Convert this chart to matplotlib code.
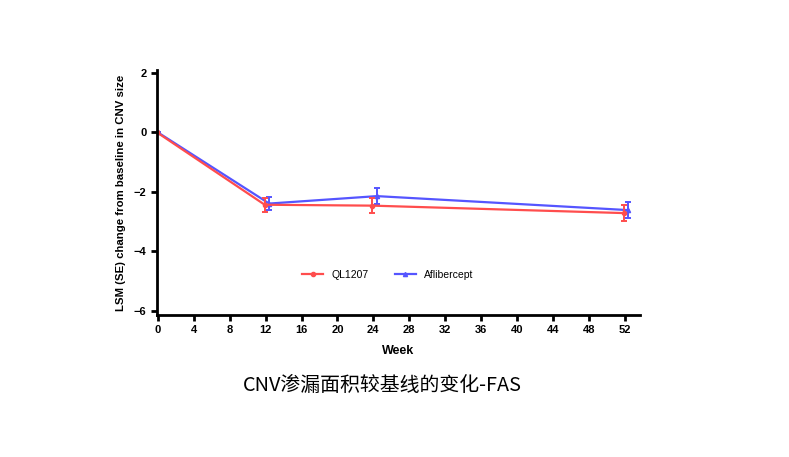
import matplotlib.pyplot as plt
from matplotlib.lines import Line2D

plt.rcParams['font.family'] = ['Liberation Sans', 'Noto Sans CJK SC', 'DejaVu Sans']

# data
weeks = [0, 12, 24, 52]
ql1207 = [0, -2.43, -2.46, -2.71]
ql1207_se = [0, 0.24, 0.24, 0.26]
aflib = [0, -2.39, -2.14, -2.61]
aflib_se = [0, 0.23, 0.27, 0.27]
xticks = list(range(0, 53, 4))
yticks = [2, 0, -2, -4, -6]

fig = plt.figure(figsize=(7.89, 4.57), dpi=100)
ax = fig.add_axes([0.199, 0.311, 0.612, 0.536])

red = '#ff4d4d'
blue = '#5555ff'
ax.errorbar([w - 0.1 for w in weeks], ql1207, yerr=ql1207_se, color=red, lw=1.6,
            marker='o', ms=3, capsize=2.5, elinewidth=1.4, capthick=1.4)
ax.errorbar([w + 0.4 if w > 0 else w for w in weeks], aflib, yerr=aflib_se, color=blue, lw=1.6,
            marker='^', ms=3, capsize=2.5, elinewidth=1.4, capthick=1.4, zorder=1)

ax.set_xlim(-0.1, 53.7)
ax.set_ylim(-6.13, 2.1)
ax.set_xticks(xticks)
ax.set_yticks(yticks)
for s in ['top', 'right']:
    ax.spines[s].set_visible(False)
for s in ['left', 'bottom']:
    ax.spines[s].set_linewidth(2)
ax.tick_params(width=2, length=4, labelsize=8)
for lab in ax.get_xticklabels() + ax.get_yticklabels():
    lab.set_fontweight('bold')
ax.set_xlabel('Week', fontsize=9, fontweight='bold', labelpad=7)
ax.set_ylabel('LSM (SE) change from baseline in CNV size', fontsize=8.2, fontweight='bold', labelpad=6)

handles = [Line2D([], [], color=red, lw=1.6, marker='o', ms=3),
           Line2D([], [], color=blue, lw=1.6, marker='^', ms=3)]
ax.legend(handles, ['QL1207', 'Aflibercept'], loc='center', bbox_to_anchor=(0.478, 0.163),
          ncol=2, frameon=False, fontsize=7.5, handlelength=2, columnspacing=2.5)

fig.text(0.484, 0.157, 'CNV渗漏面积较基线的变化-FAS', ha='center', va='center', fontsize=14.3,
         family=['Noto Sans CJK SC', 'DejaVu Sans'])

fig.savefig('out.png', dpi=100)
